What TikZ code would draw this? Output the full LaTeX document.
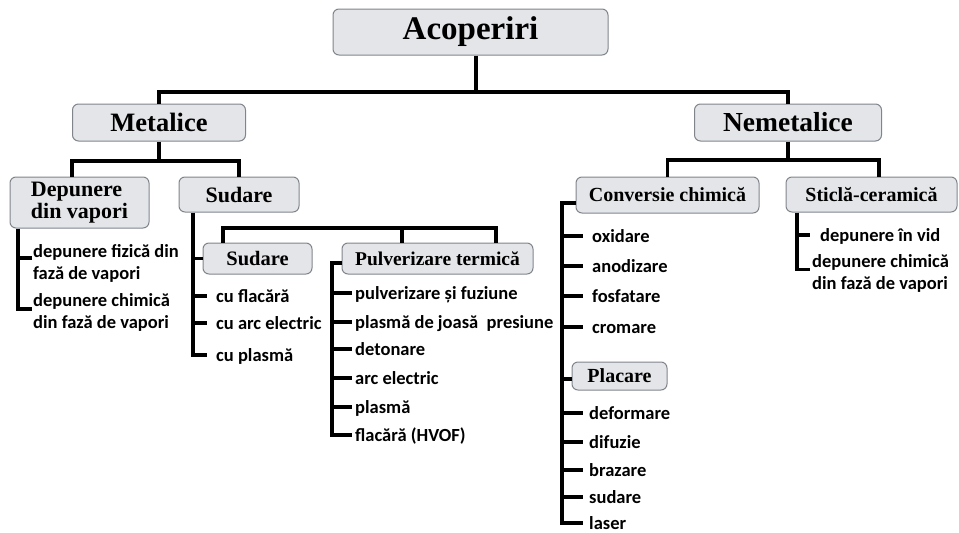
\documentclass[tikz,border=0pt]{standalone}
\usepackage{fontspec}
\setmainfont{Liberation Serif}
\newfontfamily\itemfont{Carlito}
\usepackage{tikz}
\usetikzlibrary{positioning,calc}
\definecolor{boxfill}{HTML}{E4E5E8}
\definecolor{boxline}{HTML}{80858C}

\begin{document}
\begin{tikzpicture}[
    x=1pt, y=-1pt,
    box/.style={draw=boxline, fill=boxfill, rounded corners=6pt, line width=1pt,
        inner sep=0pt, font=\bfseries\fontsize{#1}{#1}\selectfont},
    box/.default=20,
    leaf/.style={anchor=west, inner ysep=0pt, inner xsep=#1,
        font=\itemfont\bfseries\fontsize{18.5}{22}\selectfont},
    leaf/.default=0pt,
    leaf1/.style={leaf=#1, text height=12.5pt, text depth=0pt},
    leaf1/.default=0pt,
    leaf2/.style={leaf=#1, align=left},
    leaf2/.default=0pt,
    tree/.style={line width=3.2pt}
]
    \useasboundingbox (0,0) rectangle (959,533);

    % boxes
    \node[box=33, minimum width=275pt, minimum height=46pt] (acop) at (470.5,32) {Acoperiri};
    \node[box=26.5, minimum width=173pt, minimum height=37pt] (met) at (159,122.5) {Metalice};
    \node[box=27.5, minimum width=187pt, minimum height=37pt] (nem) at (788,122.5) {Nemetalice};
    \node[box=22, minimum width=139pt, minimum height=51pt, align=left] (dep) at (79.5,202.5) {Depunere\\din vapori};
    \node[box=22, minimum width=120pt, minimum height=35pt] (sud) at (239,194.5) {Sudare};
    \node[box=20, minimum width=183pt, minimum height=36pt] (conv) at (667.5,195) {Conversie chimică};
    \node[box=20, minimum width=171pt, minimum height=35pt] (sti) at (871.5,194.5) {Sticlă-ceramică};
    \node[box=20.5, minimum width=109pt, minimum height=31pt] (sud2) at (257.5,258.5) {Sudare};
    \node[box=19.5, minimum width=191pt, minimum height=31pt] (pulv) at (437.5,258.5) {Pulverizare termică};
    \node[box=20, minimum width=95pt, minimum height=28pt] (plac) at (619.5,376) {Placare};

    % leaves
    \node[leaf2=1pt] (dep1) at (32,263) {depunere fizică din\\fază de vapori};
    \node[leaf2=1pt] (dep2) at (32,312) {depunere chimică\\din fază de vapori};

    \node[leaf1=9pt] (cu1) at (207,296) {cu flacără};
    \node[leaf1=9pt] (cu2) at (207,323) {cu arc electric};
    \node[leaf1=9pt] (cu3) at (207,355) {cu plasmă};

    \node[leaf1=3pt] (pv1) at (352,293) {pulverizare și fuziune};
    \node[leaf1=3pt] (pv2) at (352,322) {plasmă de joasă\ \ presiune};
    \node[leaf1=3pt] (pv3) at (352,349) {detonare};
    \node[leaf1=3pt] (pv4) at (352,378) {arc electric};
    \node[leaf1=3pt] (pv5) at (352,407) {plasmă};
    \node[leaf1=3pt] (pv6) at (352,435) {flacără (HVOF)};

    \node[leaf1=9pt] (cv1) at (583,236) {oxidare};
    \node[leaf1=9pt] (cv2) at (583,266) {anodizare};
    \node[leaf1=9pt] (cv3) at (583,296) {fosfatare};
    \node[leaf1=9pt] (cv4) at (583,327) {cromare};

    \node[leaf1=6pt] (pl1) at (583,413) {deformare};
    \node[leaf1=6pt] (pl2) at (583,442) {difuzie};
    \node[leaf1=6pt] (pl3) at (583,470) {brazare};
    \node[leaf1=6pt] (pl4) at (583,497) {sudare};
    \node[leaf1=6pt] (pl5) at (583,523) {laser};

    \node[leaf1=10pt] (st1) at (810,235) {depunere în vid};
    \node[leaf2=2pt] (st2) at (810,273) {depunere chimică\\din fază de vapori};

    % top levels
    \coordinate (j0) at (476,92);
    \draw[tree] (acop.south -| j0) -- (j0);
    \draw[tree] (met.north) |- (j0) -| (nem.north);

    \coordinate (j1) at (159,161);
    \draw[tree] (met.south) -- (j1);
    \draw[tree] ([xshift=-7.5pt]dep.north) |- (j1) -| (sud.north);

    \coordinate (j2) at (788,160);
    \draw[tree] (nem.south) -- (j2);
    \draw[tree] (conv.north) |- (j2) -| ([xshift=7.5pt]sti.north);

    % bar over sudare / pulverizare
    \coordinate (b1) at (223,228);
    \coordinate (b2) at (402,228);
    \coordinate (b3) at (496,228);
    \draw[tree] (b1 |- sud2.north) |- (b3) -- (b3 |- pulv.north);
    \draw[tree] (b2) -- (b2 |- pulv.north);

    % depunere din vapori
    \coordinate (s0) at (18,0);
    \draw[tree] (dep.south -| s0) |- ([yshift=3pt]dep2.west);
    \draw[tree] ([yshift=5pt]dep1.west -| s0) -- ([yshift=5pt]dep1.west);

    % sudare
    \coordinate (s1) at (193,0);
    \draw[tree] (sud.south -| s1) |- (cu3.west);
    \draw[tree] (s1 |- sud2.west) -- (sud2.west);
    \draw[tree] (s1 |- cu1.west) -- (cu1.west);
    \draw[tree] (s1 |- cu2.west) -- (cu2.west);

    % pulverizare termica
    \coordinate (s2) at (332,0);
    \draw[tree] ([yshift=-4.5pt]pulv.west) -| (s2 |- pv6.west) -- (pv6.west);
    \draw[tree] (s2 |- pv1.west) -- (pv1.west);
    \draw[tree] (s2 |- pv2.west) -- (pv2.west);
    \draw[tree] (s2 |- pv3.west) -- (pv3.west);
    \draw[tree] (s2 |- pv4.west) -- (pv4.west);
    \draw[tree] (s2 |- pv5.west) -- (pv5.west);

    % conversie chimica + placare
    \coordinate (s3) at (562,0);
    \draw[tree] ([yshift=-8pt]conv.west) -| (s3 |- pl5.west) -- (pl5.west);
    \draw[tree] (s3 |- cv1.west) -- (cv1.west);
    \draw[tree] (s3 |- cv2.west) -- (cv2.west);
    \draw[tree] (s3 |- cv3.west) -- (cv3.west);
    \draw[tree] (s3 |- cv4.west) -- (cv4.west);
    \draw[tree] ([yshift=-3pt]plac.west -| s3) -- ([yshift=-3pt]plac.west);
    \draw[tree] (s3 |- pl1.west) -- (pl1.west);
    \draw[tree] (s3 |- pl2.west) -- (pl2.west);
    \draw[tree] (s3 |- pl3.west) -- (pl3.west);
    \draw[tree] (s3 |- pl4.west) -- (pl4.west);

    % sticla-ceramica
    \coordinate (s4) at (797,0);
    \draw[tree] (sti.south -| s4) |- ([yshift=3.5pt]st2.west);
    \draw[tree] (s4 |- st1.west) -- (st1.west);
\end{tikzpicture}
\end{document}
